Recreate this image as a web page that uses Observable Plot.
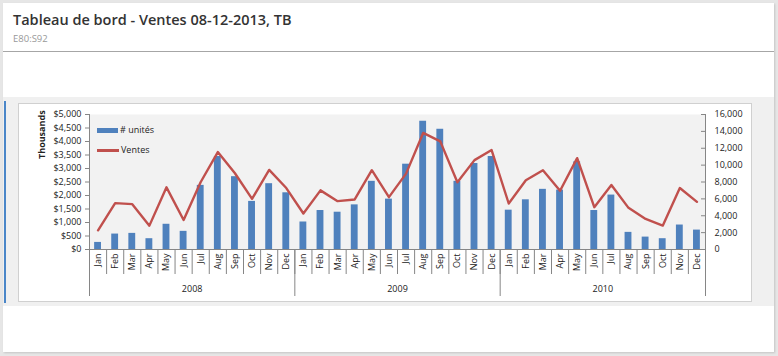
<!DOCTYPE html>
<html>
<head>
<meta charset="utf-8">
<script src="https://cdn.jsdelivr.net/npm/d3@7"></script>
<script src="https://cdn.jsdelivr.net/npm/@observablehq/plot@0.6"></script>
<style>
  html, body { margin: 0; padding: 0; }
  body { width: 778px; height: 356px; background: #e6e6e6; position: relative; overflow: hidden; font-family: "Open Sans", "Noto Sans", sans-serif; }
  #card { position: absolute; left: 3px; top: 3px; width: 771px; height: 349px; background: #fff; box-shadow: 1px 1px 2px rgba(0,0,0,0.15); }
  #title { position: absolute; left: 10px; top: 7px; font-size: 14.5px; font-weight: 600; color: #333; white-space: nowrap; }
  #subtitle { position: absolute; left: 10px; top: 29px; font-size: 9.5px; color: #999; }
  #hr { position: absolute; left: 0; top: 48px; width: 771px; height: 1px; background: #a6a6a6; }
  #band { position: absolute; left: 0; top: 94px; width: 771px; height: 209px; background: #f0f0f0; }
  #accent { position: absolute; left: 1px; top: 98px; width: 1.5px; height: 202px; background: #4a86c8; }
  #chartbox { position: absolute; left: 15px; top: 100px; width: 732px; height: 197px; background: #fff; border: 1px solid #d0d0d0; }
  #chartbox svg { position: absolute; left: 0; top: 0; }
  .lg { position: absolute; font-size: 9px; color: #222; white-space: nowrap; font-family: "Open Sans", sans-serif; }
  #thousands { position: absolute; left: 22px; top: 30px; transform-origin: 0 0; transform: rotate(-90deg); font-size: 9px; font-weight: 700; color: #222; white-space: nowrap; }
</style>
</head>
<body>
<div id="card">
  <div id="title">Tableau de bord - Ventes 08-12-2013, TB</div>
  <div id="subtitle">E80:S92</div>
  <div id="hr"></div>
  <div id="band"></div>
  <div id="accent"></div>
  <div id="chartbox"></div>
</div>
<script>
// ---- Data ----
const years = ["2008", "2009", "2010"];
const months = ["Jan", "Feb", "Mar", "Apr", "May", "Jun", "Jul", "Aug", "Sep", "Oct", "Nov", "Dec"];
// # unités (right axis, units)
const unites = [
  840, 1830, 1910, 1280, 2990, 2150, 7600, 11020, 8630, 5700, 7800, 6720,
  3260, 4620, 4420, 5290, 8080, 5970, 10110, 15200, 14250, 8080, 10190, 11020,
  4660, 5890, 7130, 7040, 10390, 4620, 6450, 2030, 1470, 1280, 2900, 2300
];
// Ventes (left axis, $ thousands)
const ventes = [
  710, 1716, 1680, 884, 2302, 1093, 2500, 3608, 2825, 1877, 2948, 2276,
  1332, 2190, 1791, 1854, 2936, 1940, 2810, 4317, 4004, 2489, 3310, 3683,
  1704, 2562, 2936, 2177, 3383, 1567, 2388, 1542, 1131, 884, 2276, 1765
];
const leftTicks = [0, 500, 1000, 1500, 2000, 2500, 3000, 3500, 4000, 4500, 5000];
const rightTicks = [0, 2000, 4000, 6000, 8000, 10000, 12000, 14000, 16000];
const leftMax = 5000, rightMax = 16000;

// ---- Build table ----
const rows = [];
years.forEach((y, yi) => months.forEach((m, mi) => {
  const i = yi * 12 + mi;
  rows.push({i, year: y, month: m, unites: unites[i], ventes: ventes[i]});
}));
const nMonths = rows.length;
const monthEdges = d3.range(nMonths + 1);
const yearEdges = d3.range(0, nMonths + 1, 12);
const yearLabels = years.map((y, yi) => ({year: y, c: yi * 12 + 6}));
const ratio = leftMax / rightMax;

// ---- Layout ----
const W = 732, H = 197;
const mL = 70, mR = 46, mT = 10, mB = 52;
const fw = W - mL - mR, fh = H - mT - mB;
const axisColor = "#868686";
const font = "Open Sans, Noto Sans, sans-serif";

const chart = Plot.plot({
  width: W, height: H,
  marginLeft: mL, marginRight: mR, marginTop: mT, marginBottom: mB,
  style: {fontFamily: font, fontSize: "9px", color: "#222", background: "transparent"},
  x: {type: "linear", domain: [0, nMonths], axis: null},
  y: {type: "linear", domain: [0, leftMax], axis: null},
  marks: [
    Plot.frame({fill: "#f2f2f2", stroke: "none"}),
    // bars: units (right axis), mapped into left-axis space
    Plot.rectY(rows, {x1: d => d.i + 0.3, x2: d => d.i + 0.7, y: d => d.unites * ratio, fill: "#4f81bd"}),
    // line: ventes
    Plot.line(rows, {x: d => d.i + 0.5, y: "ventes", stroke: "#c0504d", strokeWidth: 2.4, strokeLinejoin: "round"}),
    // axes lines
    Plot.ruleY([0], {stroke: axisColor}),
    Plot.ruleX([0, nMonths], {stroke: axisColor}),
    // left ticks & labels
    Plot.ruleY(leftTicks, {y: d => d, insetRight: fw - 4, dx: -4, stroke: axisColor}),
    Plot.text(leftTicks, {y: d => d, text: d => "$" + d3.format(",")(d), frameAnchor: "left", textAnchor: "end", dx: -8}),
    // right ticks & labels
    Plot.ruleY(rightTicks, {y: d => d * ratio, insetLeft: fw - 4, stroke: axisColor}),
    Plot.text(rightTicks, {y: d => d * ratio, text: d => d3.format(",")(d), frameAnchor: "right", textAnchor: "start", dx: 9}),
    // category axis separators
    Plot.ruleX(monthEdges, {x: d => d, insetTop: fh - 25, dy: 25, stroke: axisColor}),
    Plot.ruleX(yearEdges, {x: d => d, insetTop: fh - 47, dy: 47, stroke: axisColor}),
    // month labels
    Plot.text(rows, {x: d => d.i + 0.5, text: "month", frameAnchor: "bottom", rotate: -90, textAnchor: "end", lineAnchor: "middle", dy: 4}),
    // year labels
    Plot.text(yearLabels, {x: "c", text: "year", frameAnchor: "bottom", lineAnchor: "middle", dy: 40})
  ]
});
const box = document.getElementById("chartbox");
box.appendChild(chart);

// legend + display-units label
const lg1 = document.createElement("div");
lg1.className = "lg";
lg1.style.left = "78px"; lg1.style.top = "19px";
lg1.innerHTML = '<span style="display:inline-block;width:21px;height:5px;background:#4f81bd;vertical-align:middle;margin-right:2px"></span># unités';
box.appendChild(lg1);
const lg2 = document.createElement("div");
lg2.className = "lg";
lg2.style.left = "78px"; lg2.style.top = "39px";
lg2.innerHTML = '<span style="display:inline-block;width:22px;height:2.4px;background:#c0504d;vertical-align:middle;margin-right:2px"></span>Ventes';
box.appendChild(lg2);
const th = document.createElement("div");
th.id = "thousands";
th.textContent = "Thousands";
th.style.left = "16px"; th.style.top = "55px";
box.appendChild(th);
</script>
</body>
</html>
